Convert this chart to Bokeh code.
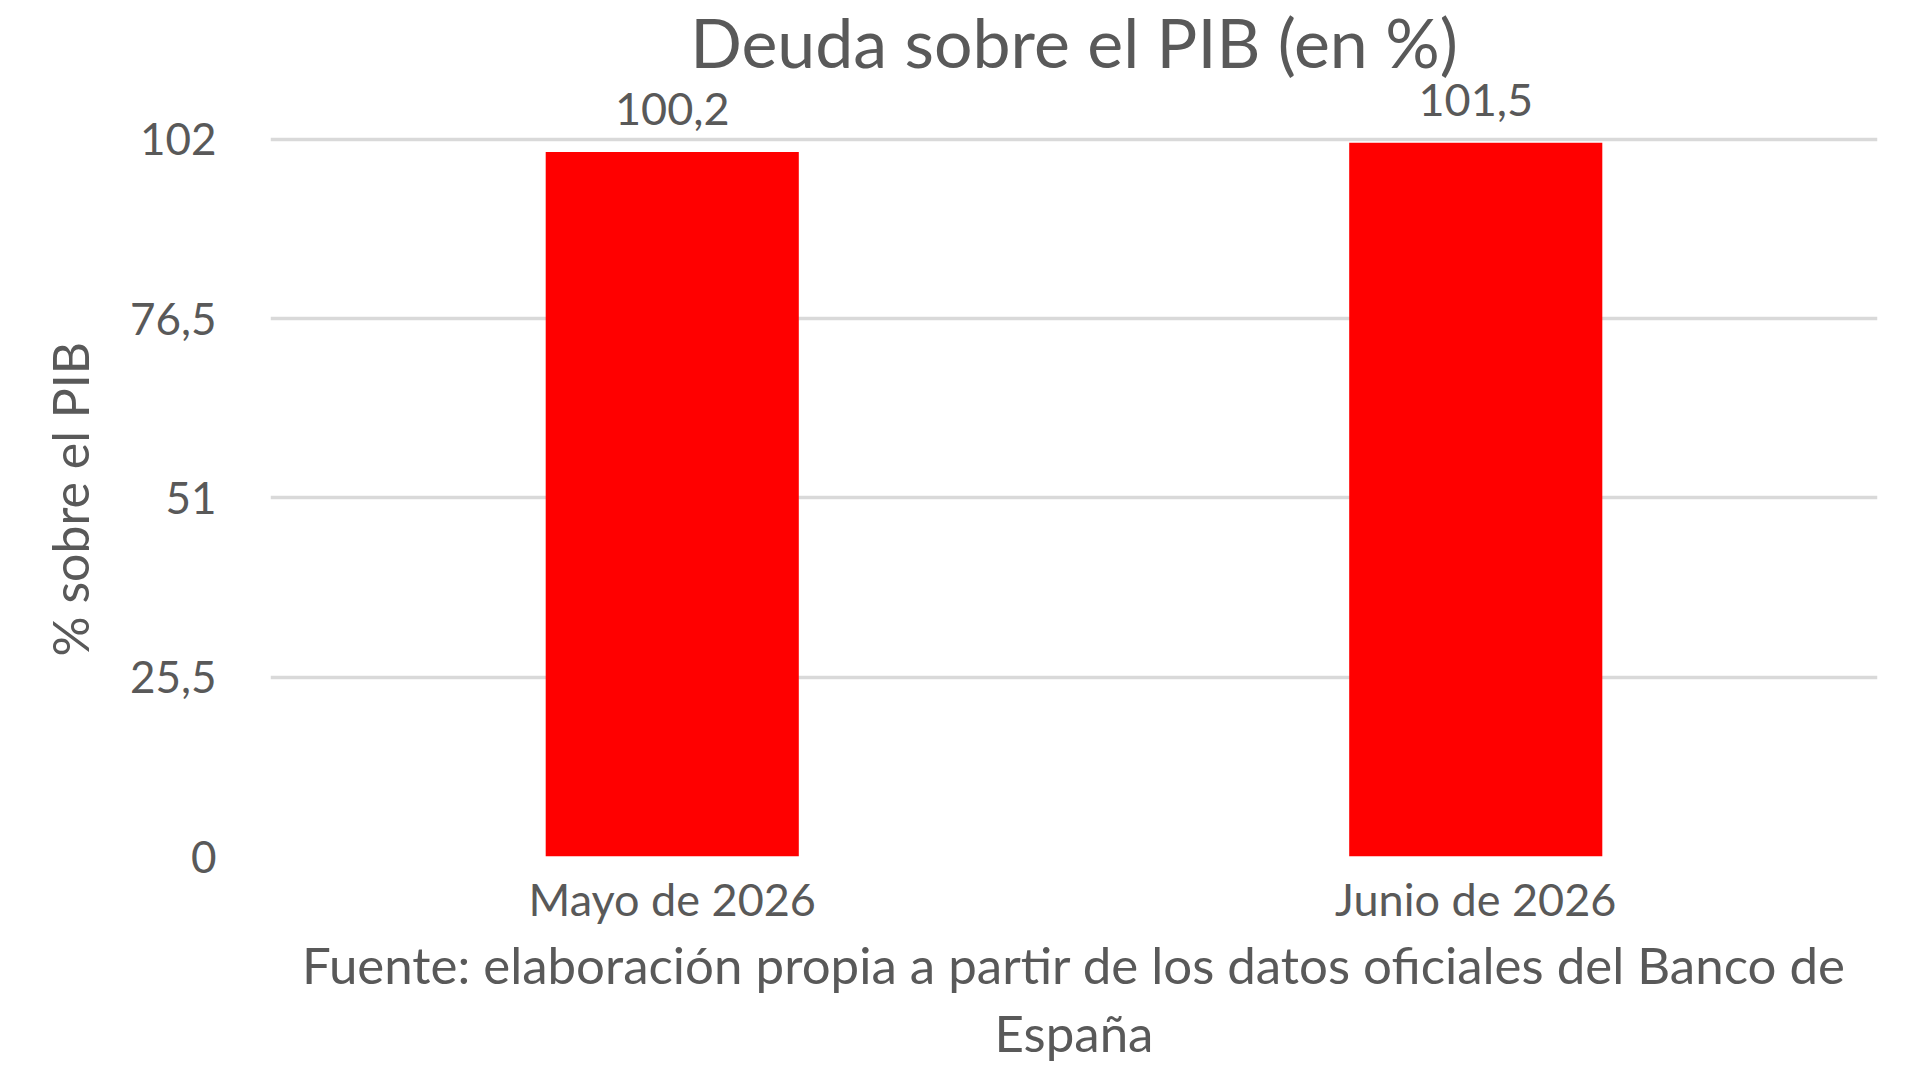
import numpy as np
from bokeh.plotting import figure
from bokeh.models import Range1d, FixedTicker, Label, Title, ColumnDataSource
from bokeh.core.properties import value
from bokeh.embed import file_html
from bokeh.resources import INLINE

# ---- data ----
categories = ["Mayo de 2026", "Junio de 2026"]
deuda = [100.2, 101.5]
deuda_labels = ["100,2", "101,5"]
y_ticks = [0, 25.5, 51, 76.5, 102]
y_tick_labels = ["0", "25,5", "51", "76,5", "102"]
title_text = "Deuda sobre el PIB (en %)"
y_axis_title = "% sobre el PIB"
source_lines = ["Fuente: elaboración propia a partir de los datos oficiales del Banco de",
                "España"]

# ---- style ----
FONT = "Lato"
TXT = "#595959"
GRID = "#d9d9d9"
BAR = "#ff0000"

W, H = 1904, 1064
LEFT, RIGHT = 270, 27
FRAME_H = 857
PX_PER_UNIT = 718 / 102.0
Y_TOP = FRAME_H / PX_PER_UNIT

xs = list(np.arange(len(categories)) + 0.5)

p = figure(width=W, height=H, output_backend="svg", toolbar_location=None,
           x_range=Range1d(0, len(categories)), y_range=Range1d(0, Y_TOP),
           min_border_left=LEFT, min_border_right=RIGHT,
           min_border_top=0, min_border_bottom=H - FRAME_H)
p.outline_line_color = None
p.background_fill_color = "white"
p.border_fill_color = "white"

# bars
src = ColumnDataSource(dict(x=xs, top=deuda, lab=deuda_labels))
p.vbar(x="x", top="top", bottom=0, width=0.315, source=src,
       fill_color=BAR, line_color=None, level="glyph")

# data labels
p.text(x="x", y="top", text="lab", source=src, text_align="center",
       text_baseline="alphabetic", y_offset=-43,
       text_font=value(FONT), text_font_size="45px", text_color=TXT)

# grid
p.xgrid.grid_line_color = None
p.ygrid.ticker = FixedTicker(ticks=y_ticks)
p.ygrid.grid_line_color = GRID
p.ygrid.grid_line_width = 3.5

# y axis
p.yaxis.ticker = FixedTicker(ticks=y_ticks)
p.yaxis.major_label_overrides = {t: l for t, l in zip(y_ticks, y_tick_labels)}
p.yaxis.axis_line_color = None
p.yaxis.major_tick_line_color = None
p.yaxis.minor_tick_line_color = None
p.yaxis.major_label_standoff = 48
p.yaxis.major_label_text_font = FONT
p.yaxis.major_label_text_font_size = "44px"
p.yaxis.major_label_text_color = TXT

# x axis
p.xaxis.ticker = FixedTicker(ticks=xs)
p.xaxis.major_label_overrides = {float(x): c for x, c in zip(xs, categories)}
p.xaxis.axis_line_color = None
p.xaxis.major_tick_line_color = None
p.xaxis.minor_tick_line_color = None
p.xaxis.major_label_standoff = 9
p.xaxis.major_label_text_font = FONT
p.xaxis.major_label_text_font_size = "45px"
p.xaxis.major_label_text_color = TXT

# title
p.add_layout(Label(x=len(categories) / 2, y=(FRAME_H - 41) / PX_PER_UNIT,
                   x_units="data", y_units="data", text=title_text,
                   text_align="center", text_baseline="alphabetic",
                   text_font=FONT, text_font_size="68px", text_color=TXT))

# y axis title (left panel)
p.add_layout(Title(text=y_axis_title, align="left", offset=200,
                   standoff=54, text_font=FONT, text_font_size="50px",
                   text_font_style="normal", text_color=TXT), "left")

# source lines (below panel)
for line, so in zip(source_lines, [7, 3]):
    p.add_layout(Title(text=line, align="center", standoff=so,
                       text_font=FONT, text_font_size="51px",
                       text_font_style="normal", text_color=TXT), "below")

open("out.html", "w").write(file_html(p, INLINE))
